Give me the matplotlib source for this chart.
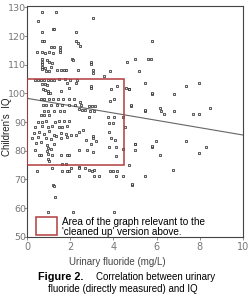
import matplotlib.pyplot as plt
import matplotlib.patches as patches

# fluoride (mg/L) and IQ values
fluoride = [
    # upper part (IQ > 105)
    0.68, 1.36, 0.53, 3.04, 1.21, 1.27, 0.68, 2.29, 0.68, 0.80, 2.29, 2.37, 2.47, 1.10, 1.26, 1.52,
    1.52, 1.52, 0.48, 0.68, 0.84, 1.00, 1.20, 2.08, 0.68, 0.68, 0.68, 0.68, 0.68, 0.92, 1.02, 1.15,
    2.96, 2.96, 0.87, 1.03, 1.41, 1.57, 1.69, 1.80, 2.37, 3.07, 3.07, 3.86, 3.58, 5.80, 5.02, 5.60,
    5.75, 4.62, 5.18, 2.15, 0.85, 1.10,
    # along top of red box
    0.36, 0.50, 0.65, 0.80, 0.95, 1.10, 1.25, 1.50, 1.75, 2.00, 2.30,
    # middle band
    0.71, 0.82, 0.94, 1.87, 2.26, 0.75, 0.85, 0.95, 1.95, 1.57, 0.97, 1.05, 0.63, 0.80, 1.01, 1.20,
    1.45, 1.66, 1.93, 2.18, 0.72, 0.88, 1.13, 1.40, 1.63, 1.93, 2.20, 2.52, 0.78, 0.98, 1.25, 1.52,
    1.72, 0.63, 0.80, 1.00, 2.96, 2.96, 3.89, 4.15, 4.59, 4.74, 3.85, 4.05, 2.45, 2.85, 3.00, 3.16,
    2.42, 2.55, 2.70, 2.90, 3.10, 4.82, 5.44, 2.85, 3.73, 4.05, 4.43, 3.81, 4.00, 4.56, 2.57, 2.42,
    3.78, 3.07, 3.07, 2.73, 3.20, 3.89, 4.09, 5.02, 5.80, 2.96, 3.78, 4.13, 2.76, 2.42, 3.04, 4.43,
    4.13, 4.74, 2.85, 3.12, 3.12, 3.32, 4.13, 4.43, 5.44, 4.87, 2.42,
    # right side
    5.78, 6.79, 7.38, 7.95, 5.47, 4.82, 5.47, 6.14, 6.19, 6.34, 6.79, 7.69, 7.95, 8.47, 5.99, 7.38,
    8.27, 7.95, 6.14, 6.76, 5.01, 5.01, 5.78, 4.85, 5.80, 4.74,
    # lower left
    0.53, 0.68, 0.87, 1.30, 1.49, 1.72, 1.95,
    0.37, 0.68, 0.99, 1.18, 1.46, 1.64, 1.87,
    0.33, 0.56, 0.79, 1.02, 1.26, 1.57, 1.80, 2.03, 2.29,
    0.25, 0.53, 0.87, 1.10, 1.33, 1.57, 1.83,
    0.40, 0.64, 0.94, 1.26,
    0.37, 0.99, 1.10, 0.94,
    0.56, 0.64, 0.99, 1.18, 1.57, 1.87, 1.95,
    0.99, 1.04, 1.64, 1.80, 2.39,
    0.48, 1.15, 1.64, 1.87, 1.95, 2.03, 2.40, 2.70, 3.01, 3.85, 4.00, 4.15,
    1.21, 1.26, 1.30,
    0.99, 2.14, 4.05,
]
iq = [
    128.4, 128.4, 125.4, 126.4, 122.5, 122.5, 121.3, 121.3, 118.4, 118.4, 118.2, 117.4, 116.6, 116.1, 116.1, 116.1,
    115.2, 114.3, 114.3, 114.6, 114.0, 114.3, 114.2, 112.0, 112.0, 111.0, 110.2, 109.3, 108.4, 111.5, 111.0, 110.5,
    110.9, 110.1, 107.9, 107.9, 108.2, 108.2, 108.2, 108.2, 108.2, 108.1, 107.0, 107.9, 105.9, 118.2, 111.9, 112.0,
    112.0, 110.8, 107.9, 111.8, 109.0, 109.2,
    104.8, 104.8, 104.8, 104.8, 104.8, 104.8, 104.8, 105.0, 104.9, 104.8, 104.8,
    103.2, 103.2, 102.9, 103.6, 103.8, 101.5, 101.2, 101.0, 102.0, 100.9, 100.1, 100.1, 98.1, 98.1, 98.1, 98.1,
    98.1, 98.1, 98.1, 98.1, 95.8, 95.8, 95.8, 95.8, 95.8, 95.8, 95.8, 95.8, 93.9, 93.9, 93.9, 93.9,
    93.9, 92.5, 92.5, 92.5, 102.6, 101.8, 101.7, 102.6, 101.8, 101.5, 97.4, 98.0, 97.0, 95.6, 95.6, 95.6,
    94.5, 94.3, 94.3, 94.0, 93.8, 95.6, 93.9, 91.9, 91.9, 91.9, 91.9, 89.8, 89.8, 88.4, 87.4, 86.5,
    86.5, 85.3, 84.5, 83.7, 83.3, 84.5, 83.7, 82.5, 81.3, 82.5, 81.3, 81.3, 80.4, 80.4, 79.5, 80.6,
    78.3, 75.2, 73.2, 73.2, 71.3, 71.3, 71.3, 71.3, 71.3, 68.1, 71.3,
    99.9, 99.9, 102.6, 103.8, 103.8, 96.0, 94.1, 94.8, 93.9, 92.9, 93.9, 92.9, 92.9, 94.8, 83.4, 83.4,
    81.2, 79.2, 78.4, 73.3, 82.4, 80.4, 81.6, 68.5, 100.0, 101.7,
    90.2, 90.2, 90.5, 90.2, 90.5, 90.3, 90.3,
    88.4, 88.6, 88.4, 88.6, 88.4, 88.4, 88.6,
    86.2, 86.6, 85.8, 86.8, 85.6, 86.2, 85.8, 85.6, 85.6,
    84.4, 84.8, 84.6, 84.0, 85.0, 84.4, 84.7,
    82.7, 83.2, 82.0, 82.5,
    80.3, 81.0, 80.6, 79.9,
    78.4, 78.4, 78.8, 78.5, 78.4, 78.4, 78.4,
    77.2, 76.5, 75.4, 75.4, 74.2,
    72.8, 74.0, 72.8, 72.8, 72.8, 74.0, 74.0, 74.0, 72.8, 72.8, 72.8, 72.8,
    68.2, 67.8, 64.0,
    58.8, 58.8, 58.8,
]

# fitted line end points
line_x = [0, 10]
line_y = [98.3, 85.5]

# the "cleaned up" region
box_x = [0, 4.5]
box_y = [75, 105]

x_ticks = [0, 2, 4, 6, 8, 10]
y_ticks = [50, 60, 70, 80, 90, 100, 110, 120, 130]

red = '#b23c3c'

fig = plt.figure(figsize=(2.5, 2.95), dpi=100)
ax = fig.add_axes([0.108, 0.197, 0.864, 0.783])

ax.scatter(fluoride, iq, marker='s', s=2.2, facecolors='#e6e6e6', edgecolors='#222222', linewidths=0.5, zorder=3)
ax.plot(line_x, line_y, color='#666666', lw=0.8, zorder=2)

ax.add_patch(patches.Rectangle((box_x[0], box_y[0]), box_x[1] - box_x[0], box_y[1] - box_y[0],
                               fill=False, edgecolor=red, lw=1.1, zorder=4))

# legend-like note inside the plot
ax.add_patch(patches.Rectangle((0.042, 0.006), 0.097, 0.082, transform=ax.transAxes,
                               fill=False, edgecolor=red, lw=1.1, zorder=4))
ax.text(0.162, 0.066, 'Area of the graph relevant to the', transform=ax.transAxes,
        fontsize=7.2, family='Liberation Sans', va='center', ha='left')
ax.text(0.162, 0.022, "'cleaned up' version above.", transform=ax.transAxes,
        fontsize=7.2, family='Liberation Sans', va='center', ha='left')

ax.set_xlim(0, 10)
ax.set_ylim(50, 130.5)
ax.set_xticks(x_ticks)
ax.set_yticks(y_ticks)
ax.tick_params(labelsize=7, colors='#777777', length=2, width=0.6, pad=2)
ax.tick_params(axis='y', pad=-1.5, labelsize=6.8)
for s in ax.spines.values():
    s.set_color('#444444')
    s.set_linewidth(0.8)

fig.text(0.028, 0.57, "Children's  IQ", fontsize=7, family='Liberation Sans', color='#222222',
         rotation=90, ha='center', va='center')
fig.text(0.47, 0.112, 'Urinary fluoride (mg/L)', fontsize=7, family='Liberation Sans',
         color='#444444', ha='center', va='center')
fig.text(0.152, 0.061, 'Figure 2.', fontsize=7.8, family='Liberation Sans', weight='bold',
         ha='left', va='center')
fig.text(0.385, 0.061, 'Correlation between urinary', fontsize=7, family='Liberation Sans',
         ha='left', va='center')
fig.text(0.49, 0.02, 'fluoride (directly measured) and IQ', fontsize=7, family='Liberation Sans',
         ha='center', va='center')

fig.savefig('out.png', dpi=100)
